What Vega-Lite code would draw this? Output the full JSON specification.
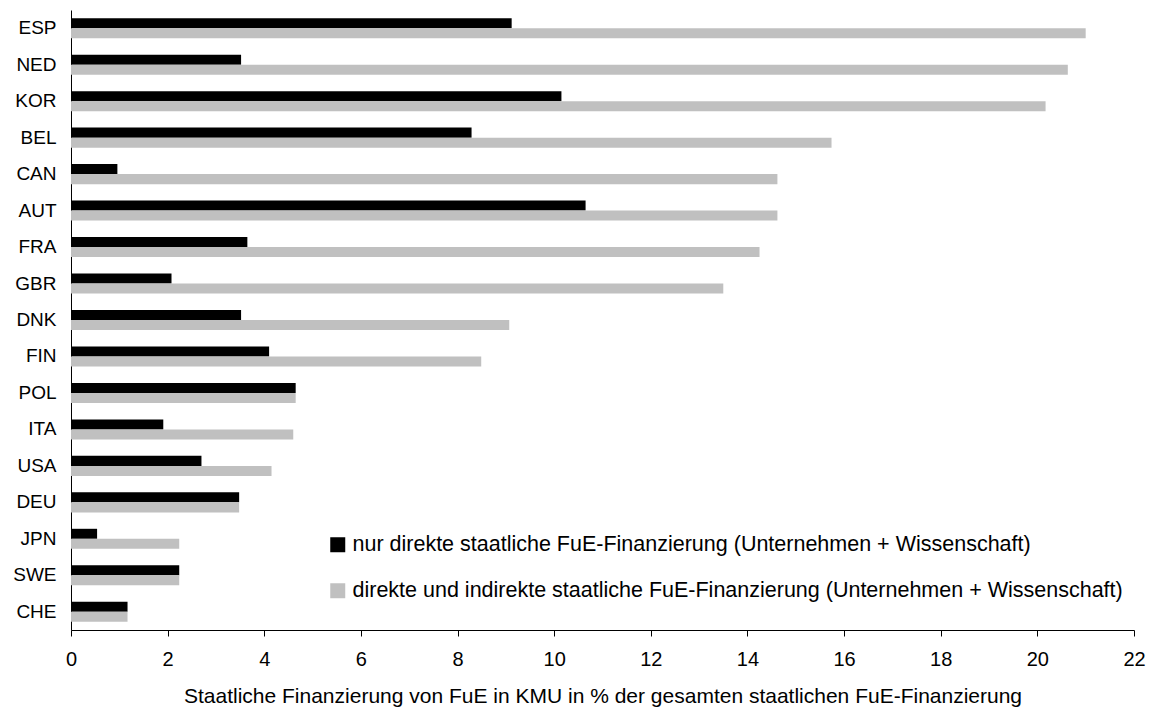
{
  "$schema": "https://vega.github.io/schema/vega-lite/v6.json",
  "width": 1063,
  "height": 620,
  "autosize": {"type": "none"},
  "padding": {"left": 71, "top": 10, "right": 16, "bottom": 79},
  "background": "white",
  "config": {
    "view": {"stroke": null},
    "font": "Liberation Sans",
    "axis": {"labelFont": "Liberation Sans", "titleFont": "Liberation Sans", "labelColor": "#000", "titleColor": "#000", "domainColor": "#000", "tickColor": "#000", "grid": false}
  },
  "data": {
    "values": [
      {"country": "ESP", "series": "nur direkte staatliche FuE-Finanzierung (Unternehmen + Wissenschaft)", "value": 9.12},
      {"country": "ESP", "series": "direkte und indirekte staatliche FuE-Finanzierung (Unternehmen + Wissenschaft)", "value": 21.0},
      {"country": "NED", "series": "nur direkte staatliche FuE-Finanzierung (Unternehmen + Wissenschaft)", "value": 3.52},
      {"country": "NED", "series": "direkte und indirekte staatliche FuE-Finanzierung (Unternehmen + Wissenschaft)", "value": 20.63},
      {"country": "KOR", "series": "nur direkte staatliche FuE-Finanzierung (Unternehmen + Wissenschaft)", "value": 10.15},
      {"country": "KOR", "series": "direkte und indirekte staatliche FuE-Finanzierung (Unternehmen + Wissenschaft)", "value": 20.17},
      {"country": "BEL", "series": "nur direkte staatliche FuE-Finanzierung (Unternehmen + Wissenschaft)", "value": 8.29},
      {"country": "BEL", "series": "direkte und indirekte staatliche FuE-Finanzierung (Unternehmen + Wissenschaft)", "value": 15.74},
      {"country": "CAN", "series": "nur direkte staatliche FuE-Finanzierung (Unternehmen + Wissenschaft)", "value": 0.96},
      {"country": "CAN", "series": "direkte und indirekte staatliche FuE-Finanzierung (Unternehmen + Wissenschaft)", "value": 14.62},
      {"country": "AUT", "series": "nur direkte staatliche FuE-Finanzierung (Unternehmen + Wissenschaft)", "value": 10.65},
      {"country": "AUT", "series": "direkte und indirekte staatliche FuE-Finanzierung (Unternehmen + Wissenschaft)", "value": 14.62},
      {"country": "FRA", "series": "nur direkte staatliche FuE-Finanzierung (Unternehmen + Wissenschaft)", "value": 3.65},
      {"country": "FRA", "series": "direkte und indirekte staatliche FuE-Finanzierung (Unternehmen + Wissenschaft)", "value": 14.25},
      {"country": "GBR", "series": "nur direkte staatliche FuE-Finanzierung (Unternehmen + Wissenschaft)", "value": 2.08},
      {"country": "GBR", "series": "direkte und indirekte staatliche FuE-Finanzierung (Unternehmen + Wissenschaft)", "value": 13.5},
      {"country": "DNK", "series": "nur direkte staatliche FuE-Finanzierung (Unternehmen + Wissenschaft)", "value": 3.52},
      {"country": "DNK", "series": "direkte und indirekte staatliche FuE-Finanzierung (Unternehmen + Wissenschaft)", "value": 9.07},
      {"country": "FIN", "series": "nur direkte staatliche FuE-Finanzierung (Unternehmen + Wissenschaft)", "value": 4.1},
      {"country": "FIN", "series": "direkte und indirekte staatliche FuE-Finanzierung (Unternehmen + Wissenschaft)", "value": 8.49},
      {"country": "POL", "series": "nur direkte staatliche FuE-Finanzierung (Unternehmen + Wissenschaft)", "value": 4.65},
      {"country": "POL", "series": "direkte und indirekte staatliche FuE-Finanzierung (Unternehmen + Wissenschaft)", "value": 4.65},
      {"country": "ITA", "series": "nur direkte staatliche FuE-Finanzierung (Unternehmen + Wissenschaft)", "value": 1.91},
      {"country": "ITA", "series": "direkte und indirekte staatliche FuE-Finanzierung (Unternehmen + Wissenschaft)", "value": 4.6},
      {"country": "USA", "series": "nur direkte staatliche FuE-Finanzierung (Unternehmen + Wissenschaft)", "value": 2.7},
      {"country": "USA", "series": "direkte und indirekte staatliche FuE-Finanzierung (Unternehmen + Wissenschaft)", "value": 4.15},
      {"country": "DEU", "series": "nur direkte staatliche FuE-Finanzierung (Unternehmen + Wissenschaft)", "value": 3.48},
      {"country": "DEU", "series": "direkte und indirekte staatliche FuE-Finanzierung (Unternehmen + Wissenschaft)", "value": 3.48},
      {"country": "JPN", "series": "nur direkte staatliche FuE-Finanzierung (Unternehmen + Wissenschaft)", "value": 0.54},
      {"country": "JPN", "series": "direkte und indirekte staatliche FuE-Finanzierung (Unternehmen + Wissenschaft)", "value": 2.24},
      {"country": "SWE", "series": "nur direkte staatliche FuE-Finanzierung (Unternehmen + Wissenschaft)", "value": 2.24},
      {"country": "SWE", "series": "direkte und indirekte staatliche FuE-Finanzierung (Unternehmen + Wissenschaft)", "value": 2.24},
      {"country": "CHE", "series": "nur direkte staatliche FuE-Finanzierung (Unternehmen + Wissenschaft)", "value": 1.17},
      {"country": "CHE", "series": "direkte und indirekte staatliche FuE-Finanzierung (Unternehmen + Wissenschaft)", "value": 1.17}
    ]
  },
  "mark": {"type": "bar", "orient": "horizontal"},
  "encoding": {
    "y": {
      "field": "country",
      "type": "nominal",
      "sort": null,
      "scale": {"paddingInner": 0.45, "paddingOuter": 0.225},
      "axis": {"title": null, "ticks": false, "labelFontSize": 19, "labelPadding": 15, "domainWidth": 1, "labelBaseline": "middle"}
    },
    "yOffset": {
      "field": "series",
      "type": "nominal",
      "sort": ["nur direkte staatliche FuE-Finanzierung (Unternehmen + Wissenschaft)", "direkte und indirekte staatliche FuE-Finanzierung (Unternehmen + Wissenschaft)"],
      "scale": {"paddingInner": 0, "paddingOuter": 0}
    },
    "x": {
      "field": "value",
      "type": "quantitative",
      "scale": {"domain": [0, 22], "nice": false},
      "axis": {
        "values": [0, 2, 4, 6, 8, 10, 12, 14, 16, 18, 20, 22],
        "title": "Staatliche Finanzierung von FuE in KMU in % der gesamten staatlichen FuE-Finanzierung",
        "titleFontSize": 21,
        "titleFontWeight": "normal",
        "titlePadding": 16,
        "labelFontSize": 20,
        "labelPadding": 13,
        "tickSize": 6,
        "labelFlush": false,
        "labelOverlap": false
      }
    },
    "color": {
      "field": "series",
      "type": "nominal",
      "scale": {
        "domain": ["nur direkte staatliche FuE-Finanzierung (Unternehmen + Wissenschaft)", "direkte und indirekte staatliche FuE-Finanzierung (Unternehmen + Wissenschaft)"],
        "range": ["#000000", "#C0C0C0"]
      },
      "legend": {
        "title": null,
        "orient": "none",
        "legendX": 256,
        "legendY": 524,
        "padding": 0,
        "symbolType": "square",
        "symbolSize": 225,
        "symbolStrokeWidth": 0,
        "labelFontSize": 21.5,
        "labelOffset": 4,
        "labelLimit": 1000,
        "rowPadding": 23,
        "labelColor": "#000"
      }
    }
  }
}
